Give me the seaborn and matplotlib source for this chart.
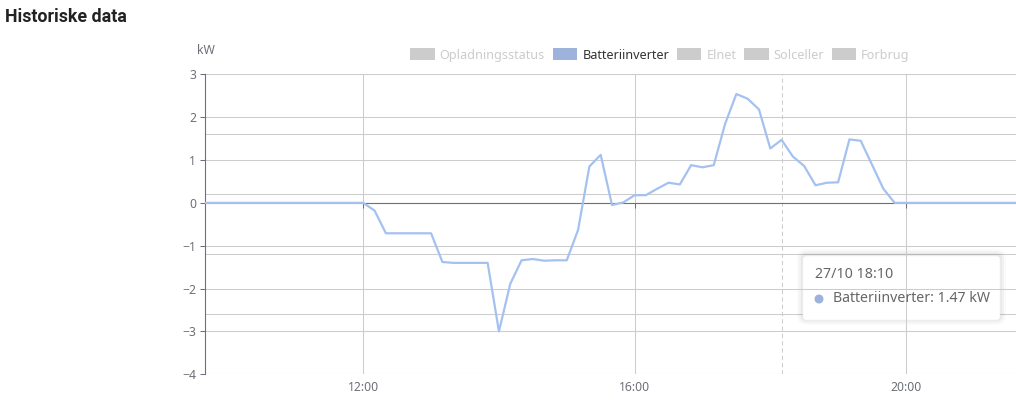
import pandas as pd
import matplotlib.pyplot as plt
import matplotlib.dates as mdates
import seaborn as sns
from matplotlib.patches import Patch, FancyBboxPatch, Circle
from matplotlib.transforms import IdentityTransform

W, H = 1016, 408

# ── Data ─────────────────────────────────────────────────────────────────────
START = '2023-10-27 09:40'
STEP = '10min'

# Batteriinverter, kW, one value per 10 minutes from 09:40 to 21:40
battery_kw = [
    0, 0, 0, 0, 0, 0, 0, 0, 0, 0, 0, 0, 0, 0,           # 09:40 - 11:50
    0, -0.18, -0.71, -0.71, -0.71, -0.71,                # 12:00 - 12:50
    -0.71, -1.38, -1.40, -1.40, -1.40, -1.40,            # 13:00 - 13:50
    -3.00, -1.89, -1.34, -1.31, -1.35, -1.34,            # 14:00 - 14:50
    -1.34, -0.63, 0.85, 1.12, -0.05, 0.01,               # 15:00 - 15:50
    0.18, 0.18, 0.33, 0.47, 0.43, 0.88,                  # 16:00 - 16:50
    0.83, 0.88, 1.84, 2.54, 2.43, 2.18,                  # 17:00 - 17:50
    1.27, 1.47, 1.08, 0.86, 0.41, 0.47,                  # 18:00 - 18:50
    0.48, 1.48, 1.45, 0.89, 0.33, 0,                     # 19:00 - 19:50
    0, 0, 0, 0, 0, 0, 0, 0, 0, 0, 0,                     # 20:00 - 21:40
]

series_names = ['Opladningsstatus', 'Batteriinverter', 'Elnet', 'Solceller', 'Forbrug']
active_series = 'Batteriinverter'
x_tick_labels = ['12:00', '16:00', '20:00']
y_ticks = [-4, -3, -2, -1, 0, 1, 2, 3]
soc_ticks = [0, 20, 40, 60, 80, 100]   # hidden Opladningsstatus axis (%)
tooltip_time = '18:10'

LINE_COLOR = '#a4c1f0'
ACTIVE_COLOR = '#9db3db'
OFF_COLOR = '#cccccc'
GRID = '#cccccc'
AXIS = '#6e7079'

df = pd.DataFrame({
    'time': pd.date_range(START, periods=len(battery_kw), freq=STEP),
    'kW': battery_kw,
})
day = df['time'].dt.strftime('%Y-%m-%d').iloc[0]
tip_time = pd.Timestamp(f'{day} {tooltip_time}')
tip_value = df.loc[df['time'] == tip_time, 'kW'].iloc[0]

# ── Figure ───────────────────────────────────────────────────────────────────
sns.set_style('white')
plt.rcParams['font.family'] = ['Noto Sans', 'DejaVu Sans']

fig = plt.figure(figsize=(W / 100, H / 100), dpi=100)
ax = fig.add_axes([205 / W, 33.7 / H, 814 / W, 300 / H])
ax2 = ax.twinx()
ax.set_zorder(ax2.get_zorder() + 1)
ax.patch.set_visible(False)

# hidden SOC axis only contributes its grid lines
ax2.set_ylim(0, 100)
ax2.set_yticks(soc_ticks)
ax2.grid(axis='y', color=GRID, lw=0.75)
ax2.tick_params(axis='y', length=0, labelright=False)
for s in ax2.spines.values():
    s.set_visible(False)

sns.lineplot(data=df, x='time', y='kW', ax=ax, color=LINE_COLOR, lw=1.6, zorder=5)

ax.set_xlim(df['time'].iloc[0], df['time'].iloc[-1])
ax.set_ylim(min(y_ticks), max(y_ticks))
ax.set_yticks(y_ticks)
ticks = [pd.Timestamp(f'{day} {t}') for t in x_tick_labels]
ax.set_xticks(ticks)
ax.xaxis.set_major_formatter(mdates.DateFormatter('%H:%M'))
ax.grid(True, color=GRID, lw=0.75)
ax.set_xlabel('')
ax.set_ylabel('')

# x axis line sits on zero, labels stay at the bottom
ax.spines['bottom'].set_position(('data', 0))
ax.spines['bottom'].set_color(AXIS)
ax.spines['bottom'].set_linewidth(0.8)
ax.spines['left'].set_color(AXIS)
ax.spines['left'].set_linewidth(0.8)
ax.spines['top'].set_visible(False)
ax.spines['right'].set_visible(False)
ax.tick_params(axis='x', bottom=True, direction='out', length=3.5, width=0.75,
               color=AXIS, labelbottom=False)
ax.tick_params(axis='y', left=True, direction='out', length=3.5, width=0.75,
               color=AXIS, labelcolor=AXIS, labelsize=8.8, pad=3)

ax2.xaxis.set_visible(True)
ax2.tick_params(axis='x', bottom=True, top=False, length=0, labelbottom=True,
                labeltop=False, labelcolor=AXIS, labelsize=8.8, pad=5)

# tooltip crosshair
ax.axvline(tip_time, color=GRID, lw=0.75, ls=(0, (4, 3)), zorder=2)

fig.text(206 / W, 1 - 50 / H, 'kW', ha='center', va='center', color=AXIS, fontsize=8.8)
fig.text(5 / W, 1 - 17 / H, 'Historiske data', ha='left', va='center',
         fontsize=12.8, fontweight='bold', color='#222222', family=['Roboto', 'DejaVu Sans'])

# legend
handles = [Patch(facecolor=ACTIVE_COLOR if n == active_series else OFF_COLOR,
                 edgecolor='none') for n in series_names]
leg = fig.legend(handles, series_names, loc='center', ncol=5,
                 bbox_to_anchor=(660 / W, 1 - 55 / H), frameon=False,
                 fontsize=9.1, handlelength=1.95, handleheight=1.05,
                 handletextpad=0.38, columnspacing=0.62, borderpad=0)
for txt, n in zip(leg.get_texts(), series_names):
    txt.set_color('#333333' if n == active_series else OFF_COLOR)

# tooltip box
idt = IdentityTransform()
for grow, alpha in [(6, 0.02), (4, 0.03), (2, 0.04)]:
    fig.add_artist(FancyBboxPatch((803 - grow, H - 320 - grow + 1), 197 + 2 * grow, 64 + 2 * grow,
                                  boxstyle=f'round,pad=0,rounding_size={4 + grow}',
                                  transform=idt, facecolor='black', edgecolor='none', alpha=alpha))
fig.add_artist(FancyBboxPatch((803, H - 320), 197, 64, boxstyle='round,pad=0,rounding_size=4',
                              transform=idt, facecolor='white', edgecolor='#f4f4f4', lw=0.5))
fig.text(815 / W, 1 - 275 / H, tip_time.strftime('%d/%m %H:%M'), ha='left', va='center',
         color='#666666', fontsize=10.2)
fig.add_artist(Circle((819, H - 299), 4.5, transform=idt, facecolor=ACTIVE_COLOR, edgecolor='none'))
fig.text(833 / W, 1 - 299 / H, f'{active_series}: {tip_value:.2f} kW', ha='left', va='center',
         color='#666666', fontsize=10.2)

fig.savefig('out.png', dpi=100)
